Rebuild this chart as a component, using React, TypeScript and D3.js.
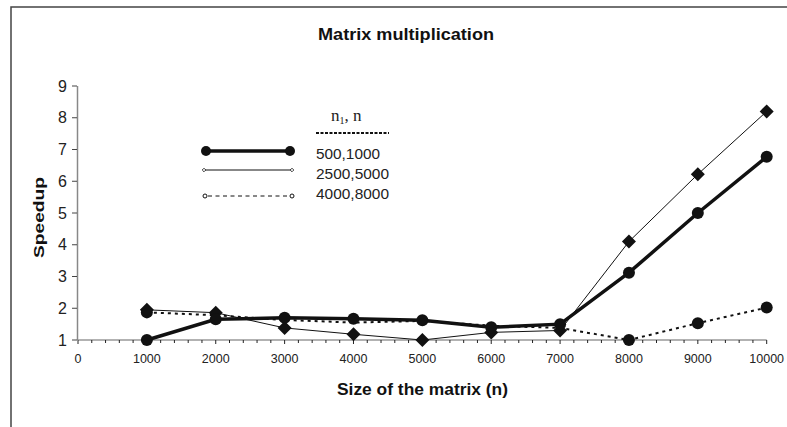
import React from "react";
import * as d3 from "d3";

const sizes = [1000, 2000, 3000, 4000, 5000, 6000, 7000, 8000, 9000, 10000];
const s500 = [1.0, 1.65, 1.7, 1.67, 1.62, 1.4, 1.5, 3.12, 5.0, 6.77];
const s2500 = [1.95, 1.86, 1.38, 1.18, 1.0, 1.24, 1.3, 4.1, 6.22, 8.2];
const s4000 = [1.87, 1.78, 1.63, 1.55, 1.6, 1.45, 1.38, 1.0, 1.53, 2.02];
const yTicks = [1, 2, 3, 4, 5, 6, 7, 8, 9];
const xTicks = [0, 1000, 2000, 3000, 4000, 5000, 6000, 7000, 8000, 9000, 10000];
const legendLabels = ["500,1000", "2500,5000", "4000,8000"];

const W = 787;
const H = 427;
const FONT = "'Liberation Sans', Arial, sans-serif";

export default function App() {
  const x = d3.scaleLinear().domain([0, 10000]).range([78, 766.7]);
  const y = d3.scaleLinear().domain([1, 9]).range([340, 86]);
  const minor = d3.range(0, 10001, 200);

  const line = d3
    .line<number>()
    .x((_, i) => x(sizes[i]))
    .y((d) => y(d));

  const diamond = (cx: number, cy: number, r: number) =>
    `M${cx},${cy - r}L${cx + r},${cy}L${cx},${cy + r}L${cx - r},${cy}Z`;

  return (
    <svg
      width={W}
      height={H}
      style={{ position: "absolute", left: 0, top: 0, background: "#fff" }}
    >
      <rect x={0} y={0} width={W} height={H} fill="#fff" />
      {/* frame */}
      <path d={`M11,${H}L11,7L${W},7`} fill="none" stroke="#444" strokeWidth={1.5} />

      {/* title */}
      <text
        x={318}
        y={40}
        textLength={176}
        lengthAdjust="spacingAndGlyphs"
        fontFamily={FONT}
        fontWeight="bold"
        fontSize={16.5}
        fill="#111"
      >
        Matrix multiplication
      </text>

      {/* y axis */}
      <line x1={77.5} x2={77.5} y1={y(9)} y2={y(1)} stroke="#888" strokeWidth={1.5} />
      {yTicks.map((t) => (
        <g key={t}>
          <line x1={72} x2={77} y1={y(t)} y2={y(t)} stroke="#444" strokeWidth={1} />
          <text
            x={67}
            y={y(t) + 5.5}
            textAnchor="end"
            fontFamily={FONT}
            fontSize={16}
            fill="#222"
          >
            {t}
          </text>
        </g>
      ))}
      <text
        transform={`translate(43.5,258) rotate(-90)`}
        textLength={81}
        lengthAdjust="spacingAndGlyphs"
        fontFamily={FONT}
        fontWeight="bold"
        fontSize={14.5}
        fill="#111"
      >
        Speedup
      </text>

      {/* x axis */}
      <line x1={x(0)} x2={x(10000)} y1={y(1)} y2={y(1)} stroke="#999" strokeWidth={1.5} />
      {minor.map((t) => (
        <line
          key={t}
          x1={x(t)}
          x2={x(t)}
          y1={y(1)}
          y2={y(1) + (t % 1000 === 0 ? 4 : 3)}
          stroke="#222"
          strokeWidth={1}
        />
      ))}
      {xTicks.map((t) => (
        <text
          key={t}
          x={x(t)}
          y={363}
          textAnchor="middle"
          fontFamily={FONT}
          fontSize={12.5}
          fill="#222"
        >
          {t}
        </text>
      ))}
      <text
        x={337}
        y={395}
        textLength={171}
        lengthAdjust="spacingAndGlyphs"
        fontFamily={FONT}
        fontWeight="bold"
        fontSize={16}
        fill="#111"
      >
        Size of the matrix (n)
      </text>

      {/* series 4000,8000 dashed */}
      <path
        d={line(s4000) || ""}
        fill="none"
        stroke="#111"
        strokeWidth={2}
        strokeDasharray="3,4"
      />
      {/* series 2500,5000 thin */}
      <path d={line(s2500) || ""} fill="none" stroke="#111" strokeWidth={1} />
      {/* series 500,1000 thick */}
      <path d={line(s500) || ""} fill="none" stroke="#111" strokeWidth={3.5} />

      {s4000.map((v, i) =>
        sizes[i] === 1000 || sizes[i] >= 8000 ? (
          <circle key={"c4" + i} cx={x(sizes[i])} cy={y(v)} r={6} fill="#111" />
        ) : null
      )}
      {s2500.map((v, i) => (
        <path key={"d" + i} d={diamond(x(sizes[i]), y(v), 7)} fill="#111" />
      ))}
      {s500.map((v, i) => (
        <circle key={"c5" + i} cx={x(sizes[i])} cy={y(v)} r={6} fill="#111" />
      ))}

      {/* legend */}
      <text
        x={331}
        y={121}
        fontFamily="'Liberation Serif', 'DejaVu Serif', serif"
        fontSize={17}
        fill="#222"
      >
        n<tspan fontSize={10} dy={3}>1</tspan>
        <tspan dy={-3}>, n</tspan>
      </text>
      <line x1={316} x2={389} y1={133} y2={133} stroke="#111" strokeWidth={2} strokeDasharray="3,1.5" />

      <line x1={205} x2={290} y1={151} y2={151} stroke="#111" strokeWidth={3.5} />
      <circle cx={206} cy={151} r={5} fill="#111" />
      <circle cx={290} cy={151} r={5} fill="#111" />

      <line x1={204} x2={292} y1={170} y2={170} stroke="#111" strokeWidth={1} />
      <path d={diamond(204, 170, 1.8)} fill="#fff" stroke="#111" strokeWidth={0.8} />
      <path d={diamond(292, 170, 1.8)} fill="#fff" stroke="#111" strokeWidth={0.8} />

      <line x1={208} x2={290} y1={196} y2={196} stroke="#111" strokeWidth={1} strokeDasharray="4,3.5" />
      <circle cx={205} cy={196} r={2} fill="#fff" stroke="#111" strokeWidth={1} />
      <circle cx={292} cy={196} r={2} fill="#fff" stroke="#111" strokeWidth={1} />

      {legendLabels.map((l, i) => (
        <text
          key={l}
          x={316}
          y={[159, 179, 199][i]}
          textLength={[64, 73, 73][i]}
          lengthAdjust="spacingAndGlyphs"
          fontFamily={FONT}
          fontSize={15}
          fill="#222"
        >
          {l}
        </text>
      ))}
    </svg>
  );
}
